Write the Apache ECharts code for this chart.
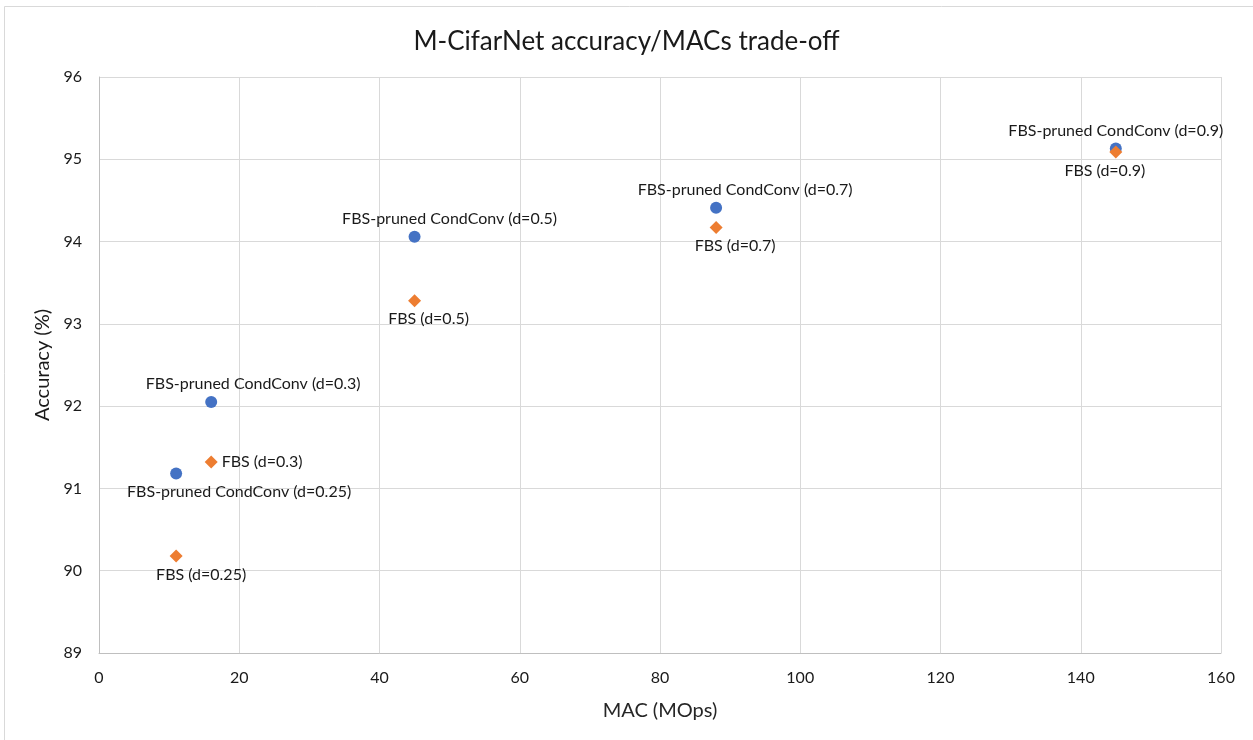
<!DOCTYPE html>
<html>
<head>
<meta charset="utf-8">
<script src="https://cdn.jsdelivr.net/npm/echarts@6/dist/echarts.min.js"></script>
<style>html,body{margin:0;padding:0;background:#fff}#c{width:1253px;height:740px}</style>
</head>
<body>
<div id="c"></div>
<script>
const macs = [11, 16, 45, 88, 145];
const condConvAcc = [91.18, 92.05, 94.06, 94.41, 95.13];
const fbsAcc = [90.18, 91.32, 93.28, 94.17, 95.09];
const condConvLabels = ['FBS-pruned CondConv (d=0.25)', 'FBS-pruned CondConv (d=0.3)', 'FBS-pruned CondConv (d=0.5)', 'FBS-pruned CondConv (d=0.7)', 'FBS-pruned CondConv (d=0.9)'];
const fbsLabels = ['FBS (d=0.25)', 'FBS (d=0.3)', 'FBS (d=0.5)', 'FBS (d=0.7)', 'FBS (d=0.9)'];

// label placement (style only)
const blueLabelStyle = [
  {position: 'bottom', offset: [63, 0]},
  {position: 'top', offset: [42, 0]},
  {position: 'top', offset: [35, 0]},
  {position: 'top', offset: [29, 0]},
  {position: 'top', offset: [0, 0]}
];
const orangeLabelStyle = [
  {position: 'bottom', offset: [25, 0]},
  {position: 'right', offset: [0, 0]},
  {position: 'bottom', offset: [14, 0]},
  {position: 'bottom', offset: [19, 0]},
  {position: 'bottom', offset: [-11, 0]}
];

const font = 'Lato, "Open Sans", sans-serif';
const labelBase = {show: true, color: '#1a1a1a', fontSize: 16, fontFamily: font, distance: 4};

const chart = echarts.init(document.getElementById('c'));
chart.setOption({
  animation: false,
  backgroundColor: '#fff',
  graphic: [{
    type: 'rect', shape: {x: 4.5, y: 6.5, width: 1270, height: 760},
    style: {fill: 'none', stroke: '#d9d9d9', lineWidth: 1}, silent: true, z: -1
  }],
  title: {
    text: 'M-CifarNet accuracy/MACs trade-off',
    left: 'center', top: 24,
    textStyle: {fontSize: 26, fontWeight: 'normal', color: '#1a1a1a', fontFamily: font}
  },
  grid: {left: 99, right: 32, top: 77, bottom: 87},
  xAxis: {
    type: 'value', min: 0, max: 160, interval: 20,
    name: 'MAC (MOps)', nameLocation: 'middle', nameGap: 48,
    nameTextStyle: {fontSize: 20, color: '#262626', fontFamily: font},
    axisLine: {show: true, lineStyle: {color: '#bfbfbf'}}, axisTick: {show: false},
    axisLabel: {fontSize: 16, color: '#1a1a1a', margin: 17, fontFamily: font},
    splitLine: {show: true, lineStyle: {color: '#d9d9d9', width: 1}}
  },
  yAxis: {
    type: 'value', min: 89, max: 96, interval: 1,
    name: 'Accuracy (%)', nameLocation: 'middle', nameGap: 42,
    nameTextStyle: {fontSize: 20, color: '#1a1a1a', fontFamily: font},
    axisLine: {show: true, lineStyle: {color: '#bfbfbf'}}, axisTick: {show: false},
    axisLabel: {fontSize: 16, color: '#1a1a1a', margin: 17, fontFamily: font},
    splitLine: {show: true, lineStyle: {color: '#d9d9d9', width: 1}}
  },
  series: [
    {
      name: 'FBS-pruned CondConv', type: 'scatter', symbol: 'circle', symbolSize: 12,
      itemStyle: {color: '#4472C4', opacity: 1},
      data: macs.map((m, i) => ({
        value: [m, condConvAcc[i]],
        label: Object.assign({}, labelBase, blueLabelStyle[i], {formatter: condConvLabels[i]})
      })),
      z: 3
    },
    {
      name: 'FBS', type: 'scatter', symbol: 'diamond', symbolSize: 13,
      itemStyle: {color: '#ED7D31', opacity: 1},
      data: macs.map((m, i) => ({
        value: [m, fbsAcc[i]],
        label: Object.assign({}, labelBase, orangeLabelStyle[i], {formatter: fbsLabels[i]})
      })),
      z: 4
    }
  ]
});
</script>
</body>
</html>
